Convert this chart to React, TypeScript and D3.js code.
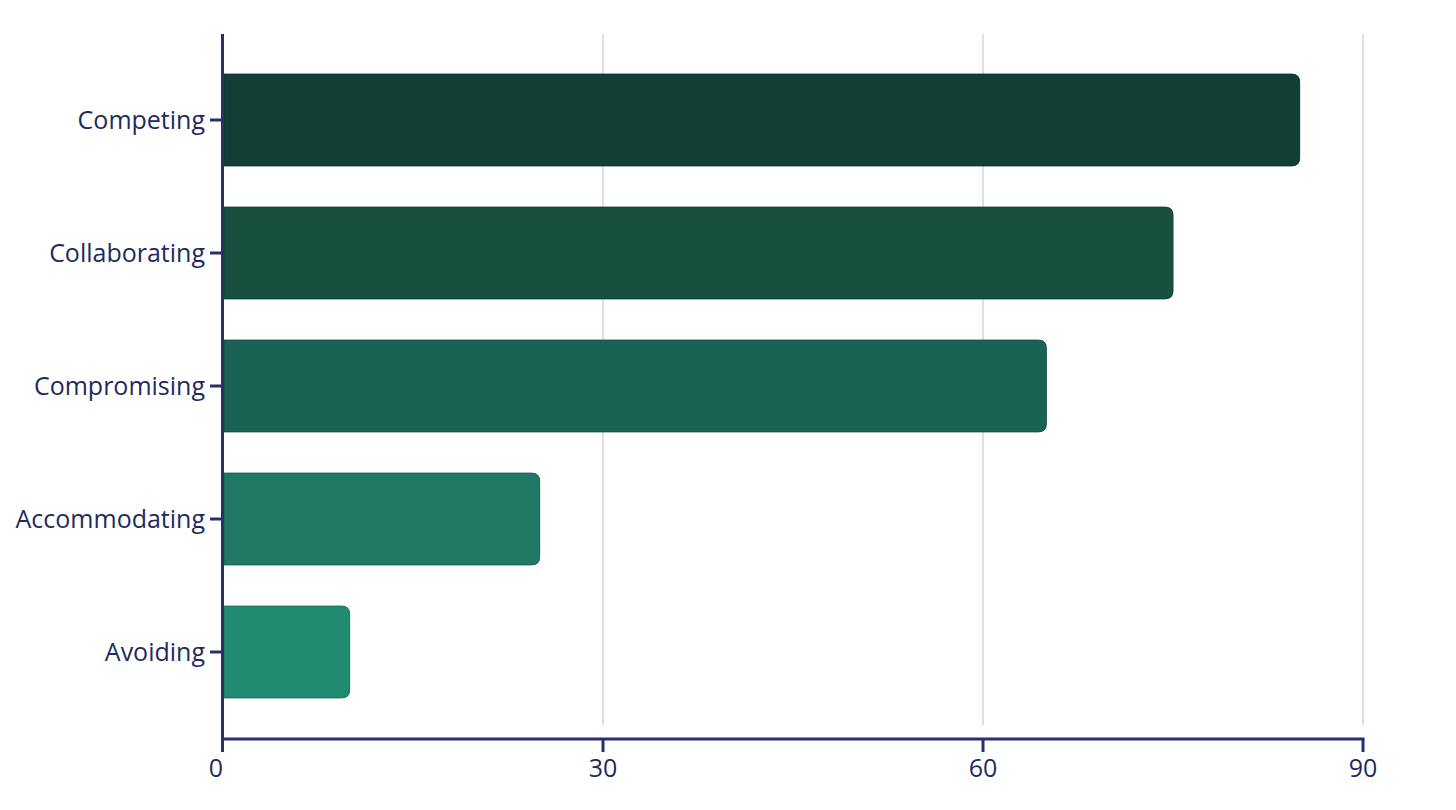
import * as d3 from 'd3'

const categories = ['Competing', 'Collaborating', 'Compromising', 'Accommodating', 'Avoiding']
const values = [85, 75, 65, 25, 10]
const barColors = ['#113f34', '#18503f', '#196354', '#1f7964', '#218b72']
const xTicks = [0, 30, 60, 90]

const WIDTH = 1456
const HEIGHT = 810
const AXIS_COLOR = '#283070'
const TEXT_COLOR = '#1f2a5e'
const FONT = '"Open Sans", "Noto Sans", sans-serif'

const x0 = 223
const x1 = 1363
const plotTop = 34
const plotBottom = 739

// bar with square left end and rounded right end
function barPath(x: number, y: number, w: number, h: number, r: number) {
  const rr = Math.min(r, w / 2, h / 2)
  return [
    `M${x},${y}`,
    `H${x + w - rr}`,
    `Q${x + w},${y} ${x + w},${y + rr}`,
    `V${y + h - rr}`,
    `Q${x + w},${y + h} ${x + w - rr},${y + h}`,
    `H${x}`,
    'Z',
  ].join(' ')
}

export default function App() {
  const xScale = d3.scaleLinear().domain([0, 90]).range([x0, x1])
  const yScale = d3
    .scaleBand<string>()
    .domain(categories)
    .range([53.5, 718.5])
    .paddingInner(0.31)
    .paddingOuter(0.155)

  return (
    <svg
      width={WIDTH}
      height={HEIGHT}
      viewBox={`0 0 ${WIDTH} ${HEIGHT}`}
      style={{ position: 'absolute', left: 0, top: 0, background: '#fff' }}
    >
      {/* grid */}
      {xTicks.slice(1).map((t) => (
        <line
          key={`g${t}`}
          x1={xScale(t)}
          x2={xScale(t)}
          y1={plotTop}
          y2={725}
          stroke="#d3d4db"
          strokeWidth={1.5}
        />
      ))}

      {/* bars */}
      {categories.map((c, i) => {
        const y = yScale(c) || 0
        return (
          <path
            key={c}
            d={barPath(xScale(0) + 1, y, xScale(values[i]) - xScale(0) - 1, yScale.bandwidth(), 8)}
            fill={barColors[i]}
            stroke={d3.color(barColors[i])!.darker(0.6).formatHex()}
            strokeWidth={1}
          />
        )
      })}

      {/* y axis */}
      <line x1={x0 - 0.5} x2={x0 - 0.5} y1={plotTop} y2={plotBottom + 1.5} stroke={AXIS_COLOR} strokeWidth={3} />
      {categories.map((c) => {
        const cy = (yScale(c) || 0) + yScale.bandwidth() / 2
        return (
          <g key={`t${c}`}>
            <line x1={210} x2={x0} y1={cy} y2={cy} stroke={AXIS_COLOR} strokeWidth={3} />
            <text
              x={205}
              y={cy}
              dy="0.35em"
              textAnchor="end"
              fill={TEXT_COLOR}
              fontFamily={FONT}
              fontSize={25}
            >
              {c}
            </text>
          </g>
        )
      })}

      {/* x axis */}
      <line x1={x0 - 2} x2={x1 + 1.5} y1={plotBottom} y2={plotBottom} stroke={AXIS_COLOR} strokeWidth={3} />
      {xTicks.map((t) => (
        <g key={`x${t}`}>
          <line
            x1={xScale(t) - (t === 0 ? 0.5 : 0)}
            x2={xScale(t) - (t === 0 ? 0.5 : 0)}
            y1={plotBottom}
            y2={752}
            stroke={AXIS_COLOR}
            strokeWidth={3}
          />
          <text
            x={xScale(t) - (t === 0 ? 7 : 0)}
            y={777}
            textAnchor="middle"
            fill={TEXT_COLOR}
            fontFamily={FONT}
            fontSize={25}
          >
            {t}
          </text>
        </g>
      ))}
    </svg>
  )
}
